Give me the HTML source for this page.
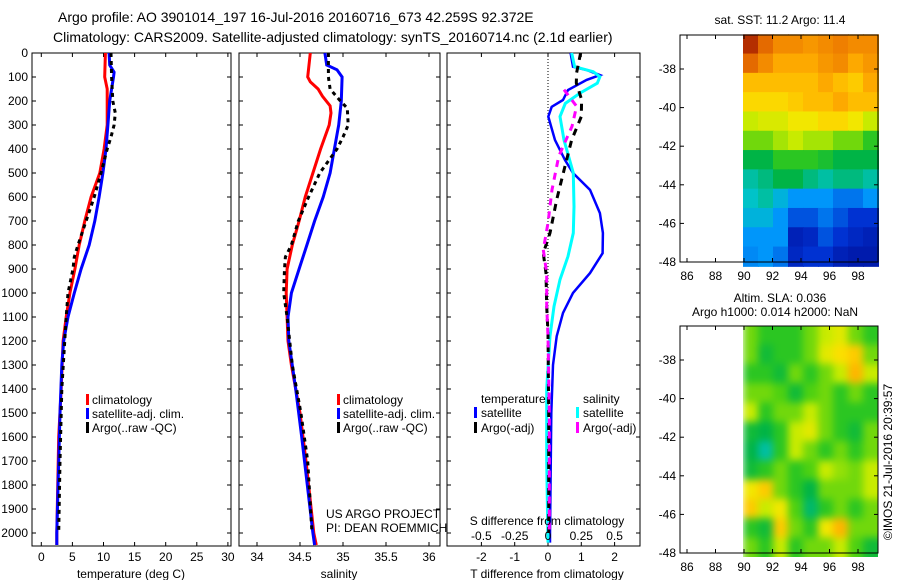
<!DOCTYPE html>
<html><head><meta charset="utf-8"><style>
body{margin:0;background:#fff;}
svg{display:block;font-family:"Liberation Sans",sans-serif;}
text{fill:#000;}
</style></head><body>
<svg id="fig" width="900" height="580" viewBox="0 0 900 580" xmlns="http://www.w3.org/2000/svg">
<defs><filter id="blur" x="-0.1" y="-0.1" width="1.2" height="1.2" color-interpolation-filters="sRGB"><feGaussianBlur stdDeviation="4"/></filter>
<clipPath id="clipSLA"><rect x="743" y="326" width="135" height="231"/></clipPath></defs>
<text x="58" y="22" font-size="14">Argo profile: AO 3901014_197 16-Jul-2016 20160716_673 42.259S 92.372E</text>
<text x="53" y="42" font-size="14">Climatology: CARS2009. Satellite-adjusted climatology: synTS_20160714.nc (2.1d earlier)</text>
<g id="plots"></g>
</svg>
<script>
// depths (m)
const tDepRed=[0,100,150,200,300,400,500,600,700,800,900,1000,1100,1200,1400,1600,2000,2050];
const tRed=[10.3,10.2,10.6,10.6,10.6,10.1,9.4,8.0,7.0,6.1,5.4,4.6,4.0,3.5,3.2,2.8,2.5,2.5];
const tDepBlue=[0,50,80,100,200,300,400,500,600,700,800,900,1000,1100,1200,1300,1500,2000,2050];
const tBlue=[10.9,11.0,11.7,11.6,11.0,10.7,10.4,9.9,9.3,8.6,7.7,6.4,5.3,4.3,3.6,3.3,3.0,2.5,2.5];
const tDepArgo=[0,100,200,250,300,350,400,500,600,700,800,850,900,1000,1100,1400,1700,2000];
const tArgo=[11.2,11.3,11.5,11.9,11.7,11.2,10.6,9.6,8.5,7.2,5.9,5.3,5.1,4.3,4.0,3.3,3.0,2.8];
const sDepRed=[0,100,120,150,180,220,250,300,400,500,600,700,800,900,1000,1200,1300,1500,1700,2000,2050];
const sRed=[34.62,34.59,34.62,34.71,34.76,34.85,34.86,34.84,34.74,34.65,34.56,34.49,34.41,34.35,34.34,34.36,34.4,34.5,34.57,34.66,34.69];
const sDepBlue=[0,50,70,100,200,300,400,500,600,700,800,900,1000,1100,1200,1400,1600,2000,2050];
const sBlue=[34.79,34.81,34.93,34.99,34.98,34.95,34.9,34.85,34.77,34.67,34.58,34.49,34.4,34.36,34.37,34.45,34.52,34.65,34.67];
const sDepArgo=[0,100,150,200,230,300,350,400,500,600,700,800,850,900,1000,1100,1300,1500,1700,2000];
const sArgo=[34.83,34.83,34.85,34.97,35.05,35.06,35.0,34.93,34.73,34.6,34.48,34.4,34.33,34.32,34.31,34.35,34.41,34.51,34.59,34.64];
const dDepTsat=[0,57,71,92,112,154,196,224,265,363,446,500,570,667,750,834,917,1000,1083,1180,1300,1500,2000,2040];
const dTsat=[0.68,0.75,1.16,1.56,1.16,0.6,0.45,0.11,0.01,0.21,0.51,0.75,1.26,1.56,1.65,1.64,1.26,0.75,0.45,0.26,0.15,0.1,0.06,0.06];
const dDepSsat=[0,57,78,99,126,167,210,265,363,500,640,750,847,944,1056,1180,1400,1700,2040];
const dSsat=[0.178,0.2,0.34,0.39,0.37,0.24,0.13,0.09,0.12,0.19,0.195,0.19,0.15,0.09,0.045,0.015,-0.01,-0.01,0.0];
const dDepTargo=[0,83,125,194,265,363,500,611,750,834,917,1056,1167,1500,2000];
const dTargo=[0.98,0.86,0.85,1.01,1.0,0.71,0.46,0.26,0.06,-0.14,-0.06,-0.04,0.0,0.02,0.02];
const dDepSargo=[153,222,306,431,570,708,820,917,1056,1180,1500,2000];
const dSargo=[0.12,0.215,0.18,0.08,0.03,0.0,-0.035,-0.01,-0.01,0.0,0.01,0.01];
const tTicks=[0,5,10,15,20,25,30];
const sTicks=[34,34.5,35,35.5,36];
const dTTicks=[-2,-1,0,1,2];
const dSTicks=[-0.5,-0.25,0,0.25,0.5];
const dSTickLabels=["-0.5","-0.25","0","0.25","0.5"];
const depthTicks=[0,100,200,300,400,500,600,700,800,900,1000,1100,1200,1300,1400,1500,1600,1700,1800,1900,2000];
const lonTicks=[86,88,90,92,94,96,98];
const latTicks=[-38,-40,-42,-44,-46,-48];
const sstGrid=[
[.92,.85,.8,.8,.78,.8,.82,.8,.8],
[.85,.8,.75,.75,.75,.78,.8,.75,.78],
[.72,.72,.72,.72,.72,.75,.72,.7,.75],
[.68,.68,.68,.7,.72,.72,.75,.72,.72],
[.6,.62,.62,.65,.65,.68,.68,.65,.6],
[.55,.55,.58,.6,.58,.58,.55,.55,.5],
[.45,.45,.5,.5,.5,.48,.45,.45,.45],
[.4,.42,.45,.45,.42,.4,.42,.42,.4],
[.38,.4,.35,.3,.3,.3,.25,.25,.3],
[.35,.35,.3,.2,.2,.25,.2,.15,.15],
[.3,.3,.3,.1,.12,.2,.15,.12,.1],
[.28,.3,.25,.12,.15,.15,.1,.08,.08]];
const slaGrid=[
[.55,.5,.5,.5,.55,.6,.63,.55,.5],
[.55,.47,.5,.5,.55,.63,.67,.7,.55],
[.5,.5,.47,.55,.5,.55,.6,.73,.6],
[.55,.55,.53,.47,.53,.55,.5,.55,.5],
[.6,.5,.55,.55,.6,.55,.5,.5,.5],
[.47,.45,.5,.6,.63,.55,.5,.47,.55],
[.45,.4,.5,.6,.55,.5,.55,.5,.55],
[.47,.5,.55,.5,.53,.6,.57,.55,.6],
[.65,.7,.55,.5,.45,.55,.55,.55,.6],
[.7,.6,.65,.53,.43,.5,.55,.5,.55],
[.5,.47,.7,.55,.5,.65,.73,.55,.55],
[.55,.5,.6,.5,.55,.55,.6,.53,.47]];

const NS="http://www.w3.org/2000/svg";
const root=document.getElementById('plots');
function mk(tag,attrs,parent){const e=document.createElementNS(NS,tag);for(const k in attrs)e.setAttribute(k,attrs[k]);(parent||root).appendChild(e);return e;}
const TOP=53,BOT=546;
const yD=d=>TOP+d*0.24;
function axT(v){return 41.3+v*6.22;}
function axS(v){return 257+(v-34)*86;}
function axDT(v){return 548+v*33.3;}
function axDS(v){return 548+v*133.2;}
function series(deps,vals,ax,color,w,dash,name){
  const pts=deps.map((d,i)=>ax(vals[i]).toFixed(1)+','+yD(d).toFixed(1)).join(' ');
  const p=mk('polyline',{points:pts,fill:'none',stroke:color,'stroke-width':w});
  if(dash)p.setAttribute('stroke-dasharray',dash);
  
  
}
function frame(x0,x1,name){
  const r=mk('rect',{x:x0,y:TOP,width:x1-x0,height:BOT-TOP,fill:'none',stroke:'#000','stroke-width':1});
  
  
  depthTicks.forEach(d=>{mk('line',{x1:x0,x2:x0+4,y1:yD(d),y2:yD(d),stroke:'#000'});mk('line',{x1:x1,x2:x1-4,y1:yD(d),y2:yD(d),stroke:'#000'});});
}
function xticks(vals,ax,labels,ylab,name){
  vals.forEach((v,i)=>{const x=ax(v);mk('line',{x1:x,x2:x,y1:TOP,y2:TOP+4,stroke:'#000'});mk('line',{x1:x,x2:x,y1:BOT,y2:BOT-4,stroke:'#000'});
    const t=mk('text',{x:x,y:ylab,'font-size':12,'text-anchor':'middle'});t.textContent=labels?labels[i]:String(v);
    
    });
}
function label(x,y,txt,name,size,anchor){const t=mk('text',{x:x,y:y,'font-size':size||12,'text-anchor':anchor||'start'});t.textContent=txt;
  
  return t;}
function legMark(x,y,color){const r=mk('rect',{x:x,y:y-10,width:3,height:11,fill:color});
  
  }

// Panel 1
frame(32,231,'temperature-axes');
depthTicks.forEach(d=>{const t=mk('text',{x:28,y:yD(d)+4,'font-size':12,'text-anchor':'end'});t.textContent=d;
  
  });
xticks(tTicks,axT,null,561,'temperature-tick-label');
series(tDepRed,tRed,axT,'#f00',3,null,'temp-climatology-line');
series(tDepBlue,tBlue,axT,'#00f',3,null,'temp-satellite-line');
series(tDepArgo,tArgo,axT,'#000',3,'4,4','temp-argo-line');
label(131,578,'temperature (deg C)','temperature-axis-title',12,'middle');
legMark(86,404,'#f00');label(92,404,'climatology','legend-climatology');
legMark(86,418,'#00f');label(92,418,'satellite-adj. clim.','legend-satellite');
legMark(86,432,'#000');label(92,432,'Argo(..raw -QC)','legend-argo');

// Panel 2
frame(239,440,'salinity-axes');
xticks(sTicks,axS,null,561,'salinity-tick-label');
series(sDepRed,sRed,axS,'#f00',3,null,'sal-climatology-line');
series(sDepBlue,sBlue,axS,'#00f',3,null,'sal-satellite-line');
series(sDepArgo,sArgo,axS,'#000',3,'4,4','sal-argo-line');
label(339,578,'salinity','salinity-axis-title',12,'middle');
legMark(337,404,'#f00');label(343,404,'climatology','legend-climatology-2');
legMark(337,418,'#00f');label(343,418,'satellite-adj. clim.','legend-satellite-2');
legMark(337,432,'#000');label(343,432,'Argo(..raw -QC)','legend-argo-2');
label(326,518,'US ARGO PROJECT','credit-project');
label(326,532,'PI: DEAN ROEMMICH','credit-pi');

// Panel 3
frame(447,640,'difference-axes');
mk('line',{x1:548,x2:548,y1:TOP,y2:BOT,stroke:'#000','stroke-dasharray':'1,2'});
xticks(dTTicks,axDT,null,561,'t-diff-tick-label');
series(dDepTsat,dTsat,axDT,'#00f',2.5,null,'t-diff-satellite-line');
series(dDepSsat,dSsat,axDS,'#0ff',3,null,'s-diff-satellite-line');
series(dDepTargo,dTargo,axDT,'#000',3,'7,6','t-diff-argo-line');
series(dDepSargo,dSargo,axDS,'#f0f',3,'7,6','s-diff-argo-line');
dSTicks.forEach((v,i)=>{const t=mk('text',{x:axDS(v),y:540,'font-size':12,'text-anchor':'middle'});t.textContent=dSTickLabels[i];
  
  });
label(547,525,'S difference from climatology','s-diff-axis-title',12,'middle');
label(547,578,'T difference from climatology','t-diff-axis-title',12,'middle');
label(481,403,'temperature','legend-temperature-header');
legMark(474,417,'#00f');label(481,417,'satellite','legend-t-satellite');
legMark(474,432,'#000');label(481,432,'Argo(-adj)','legend-t-argo');
label(583,403,'salinity','legend-salinity-header');
legMark(576,417,'#0ff');label(583,417,'satellite','legend-s-satellite');
legMark(576,432,'#f0f');label(583,432,'Argo(-adj)','legend-s-argo');

// Maps - custom colour scale
const cStops=[[0,[0,0,130]],[0.15,[0,50,210]],[0.3,[0,150,250]],[0.38,[0,195,200]],[0.45,[0,180,70]],[0.52,[60,205,20]],[0.6,[200,235,0]],[0.66,[250,230,0]],[0.74,[255,175,0]],[0.84,[235,115,0]],[0.95,[160,20,0]],[1,[130,0,0]]];
function cmap(v){
  for(let i=1;i<cStops.length;i++){
    if(v<=cStops[i][0]){const a=cStops[i-1],b=cStops[i];const f=(v-a[0])/(b[0]-a[0]);
      const c=a[1].map((x,k)=>Math.round(x+(b[1][k]-x)*f));return `rgb(${c[0]},${c[1]},${c[2]})`;}
  }
  return 'rgb(130,0,0)';
}
function mapPanel(top,grid,name,blur){
  const L=680,R=878,B=top+227;
  const lonX=l=>687+(l-86)*14.25;
  const latY=l=>top+34+(-38-l)*19.3;
  const g=mk('g',blur?{'clip-path':'url(#clipSLA)'}:{});
  const gi=mk('g',blur?{filter:'url(#blur)'}:{},g);
  const cw=(878-743)/grid[0].length, latTop=-36.2;
  const ext=blur?8:0;
  grid.forEach((row,ri)=>row.forEach((v,ci)=>{
    let y0=latY(latTop-ri), y1=latY(latTop-ri-1);
    let x0=743+ci*cw, w=cw+1;
    if(blur){ if(ri===0)y0-=ext; if(ri===grid.length-1)y1+=ext; if(ci===row.length-1)w+=ext; }
    const r=mk('rect',{x:x0,y:y0,width:w,height:y1-y0+1,fill:cmap(v)},gi);
    
    
  }));
  const f=mk('rect',{x:L,y:top,width:R-L,height:B-top,fill:'none',stroke:'#000'});
  
  
  lonTicks.forEach(l=>{const x=lonX(l);mk('line',{x1:x,x2:x,y1:top,y2:top+4,stroke:'#000'});mk('line',{x1:x,x2:x,y1:B,y2:B-4,stroke:'#000'});
    const t=mk('text',{x:x,y:B+18,'font-size':12,'text-anchor':'middle'});t.textContent=l;
    
    });
  latTicks.forEach(l=>{const y=latY(l);mk('line',{x1:L,x2:L+4,y1:y,y2:y,stroke:'#000'});mk('line',{x1:R,x2:R-4,y1:y,y2:y,stroke:'#000'});
    const t=mk('text',{x:676,y:y+4,'font-size':12,'text-anchor':'end'});t.textContent=l;
    
    });
}
mapPanel(35,sstGrid,'sst-map',false);
mapPanel(326,slaGrid,'sla-map',true);
label(780,24,'sat. SST: 11.2 Argo: 11.4','sst-map-title',12,'middle');
label(780,302,'Altim. SLA: 0.036','sla-map-title',12,'middle');
label(775,316,'Argo h1000: 0.014 h2000: NaN','sla-map-subtitle',12,'middle');
const c=label(0,0,'©IMOS 21-Jul-2016 20:39:57','timestamp',12,'middle');
c.setAttribute('transform','translate(892,462) rotate(-90)');
</script>
</body></html>
